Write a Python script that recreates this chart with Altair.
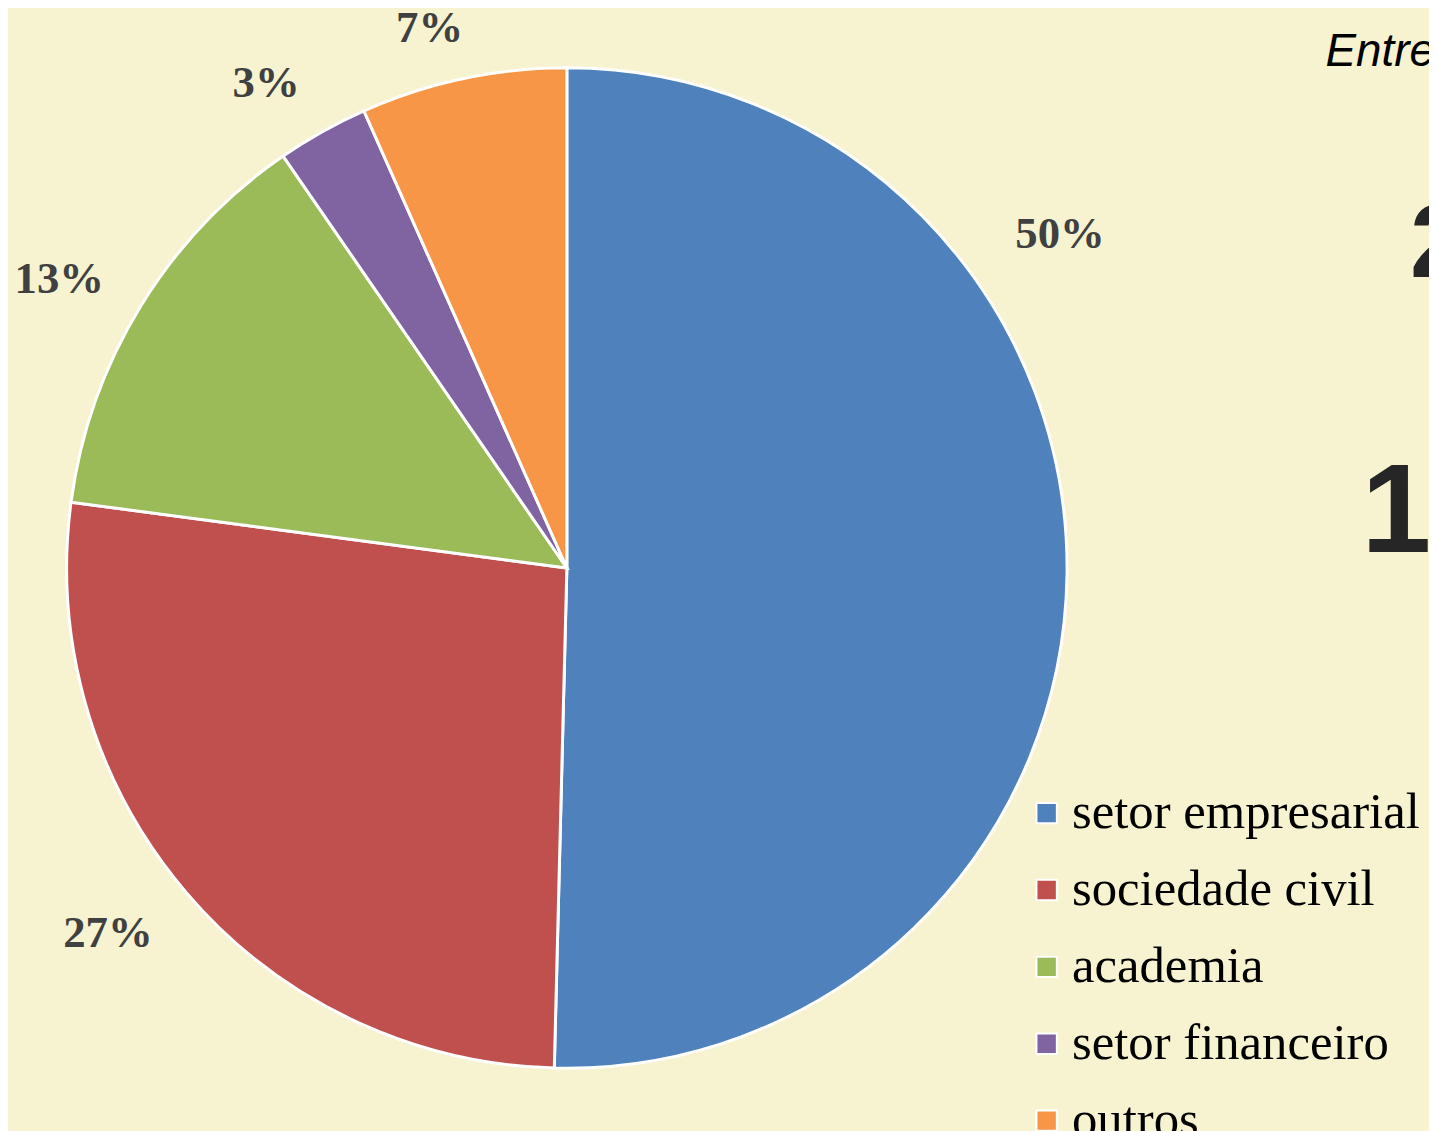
import altair as alt
import pandas as pd

# ---- data ----
categorias = ["setor empresarial", "sociedade civil", "academia", "setor financeiro", "outros"]
valores = [50.4, 26.7, 13.3, 2.95, 6.65]
rotulos = ["50%", "27%", "13%", "3%", "7%"]
cores = ["#4F81BD", "#C0504D", "#9BBB59", "#8064A2", "#F79646"]

# side texts of the slide (partly cut by the frame)
textos_lado = ["Entre", "2", "17"]

# label nudges (pixels) from the slice mid-angle, like the spreadsheet's "best fit"
deslocamentos = [(-78, -343), (-25, -6), (-21, 9), (-22, 13), (-19, 19)]

df = pd.DataFrame({
    "categoria": categorias,
    "valor": valores,
    "rotulo": rotulos,
    "ordem": list(range(len(categorias))),
})

W, H = 1429, 1123
CX, CY, R = 562, 560, 503
BG = "#F7F2D0"

base = alt.Chart(df).encode(
    theta=alt.Theta("valor:Q", stack=True),
    order=alt.Order("ordem:Q"),
    x=alt.value(CX),
    y=alt.value(CY),
)

pie = base.mark_arc(radius=R, stroke="white", strokeWidth=3).encode(
    color=alt.Color(
        "categoria:N",
        scale=alt.Scale(domain=categorias, range=cores),
        legend=alt.Legend(
            title=None,
            orient="none",
            legendX=1019,
            legendY=781,
            symbolType="square",
            symbolSize=420,
            symbolStrokeColor="white",
            symbolStrokeWidth=2,
            symbolOpacity=1,
            labelFont="Liberation Serif",
            labelFontSize=51,
            labelColor="black",
            labelOffset=0,
            labelLimit=1000,
            rowPadding=25.3,
            padding=0,
        ),
    )
)

label_style = dict(
    radius=574,
    font="Liberation Serif",
    fontWeight="bold",
    fontSize=45,
    color="#404040",
    align="center",
    baseline="middle",
)

label_layers = []
for i, (ddx, ddy) in enumerate(deslocamentos):
    label_layers.append(
        base.transform_calculate(
            txt=f"datum.ordem == {i} ? datum.rotulo : ''"
        ).mark_text(dx=ddx, dy=ddy, **label_style).encode(text="txt:N")
    )

t_entre = alt.Chart(pd.DataFrame({"t": [textos_lado[0]]})).mark_text(
    align="left", baseline="alphabetic", font="Liberation Sans",
    fontStyle="italic", fontSize=46, color="black"
).encode(x=alt.value(1325), y=alt.value(55), text="t:N")

t_dois = alt.Chart(pd.DataFrame({"t": [textos_lado[1]]})).mark_text(
    align="left", baseline="alphabetic", font="Liberation Sans",
    fontWeight="bold", fontSize=104, color="#262626"
).encode(x=alt.value(1410), y=alt.value(267), text="t:N")

t_dezessete = alt.Chart(pd.DataFrame({"t": [textos_lado[2]]})).mark_text(
    align="left", baseline="alphabetic", font="Liberation Sans",
    fontWeight="bold", fontSize=126, color="#262626"
).encode(x=alt.value(1361), y=alt.value(544), text="t:N")

chart = alt.layer(pie, *label_layers, t_entre, t_dois, t_dezessete).properties(
    width=W,
    height=H,
    autosize=alt.AutoSizeParams(type="none"),
    padding=0,
    background=BG,
).configure_view(stroke=None)

chart.save("out.html", embed_options={"renderer": "svg", "actions": False})
